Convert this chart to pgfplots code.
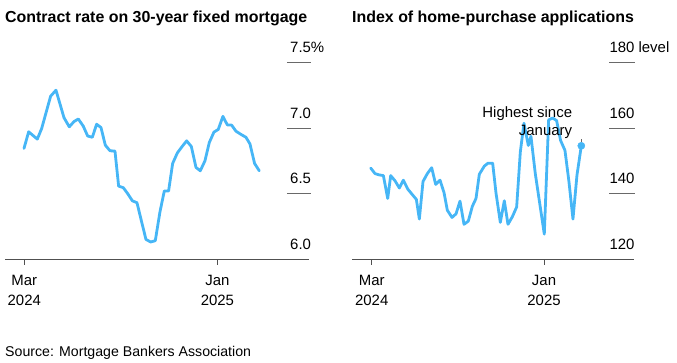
\documentclass[border=0pt]{standalone}
\usepackage{fontspec}
\setmainfont{Liberation Sans}
\usepackage{pgfplots}
\usepackage{pgfplotstable}
\pgfplotsset{compat=1.18}
\definecolor{lineblue}{RGB}{70,182,246}
\definecolor{gridgray}{RGB}{105,105,105}
\definecolor{basegray}{RGB}{80,80,80}

\pgfplotstableread{
day rate
-0.5 6.845
6.9 6.972
20.6 6.916
27.5 6.997
41.7 7.244
50.2 7.29
62.9 7.08
71.3 7.01
78.7 7.05
85.6 7.07
93.5 7.015
100.4 6.94
107.8 6.93
114.6 7.03
121.5 7.005
128.4 6.87
135.8 6.827
143.7 6.825
149.5 6.557
156.9 6.545
163.8 6.50
171.2 6.445
178.6 6.43
185.9 6.285
192.8 6.15
200.2 6.13
207.6 6.14
215.0 6.36
221.9 6.52
228.7 6.52
235.1 6.73
242.5 6.81
249.9 6.858
257.3 6.903
264.7 6.86
272.1 6.70
278.9 6.674
286.3 6.75
293.2 6.89
300.6 6.97
307.4 6.99
314.8 7.09
321.7 7.025
328.6 7.023
335.4 6.977
342.8 6.954
351.3 6.93
357.6 6.88
365.0 6.73
372.4 6.674
}\ratetable

\pgfplotstableread{
day idx
-1.8 147.8
5.9 146.1
13.6 145.7
20.7 145.5
28.4 138.5
33.7 145.5
41.4 143.9
49.1 141.7
56.2 144.1
63.9 141.4
71.6 139.8
79.3 138.2
84.6 132.2
91.1 143.7
98.8 146.1
106.5 147.9
113.6 142.8
121.3 144.1
128.4 140.3
134.3 134.9
142.6 132.7
149.7 133.8
156.8 137.7
163.9 130.6
171.6 131.6
178.7 136.1
185.2 138.5
191.1 145.9
200.0 148.4
206.5 149.3
214.8 149.3
220.7 140.2
228.4 131.2
235.5 137.8
242.0 130.6
249.7 132.9
257.4 135.9
263.9 152.7
270.4 161.5
278.1 154.7
282.8 157.5
290.5 146.1
306.5 127.6
314.2 162.5
321.3 163.1
328.4 162.3
335.5 156.2
343.2 153.2
350.3 143.6
357.4 132.2
364.5 145.6
372.2 154.6
}\idxtable

\begin{document}
\begin{tikzpicture}[x=1bp,y=1bp]
\useasboundingbox (0,0) rectangle (677,-362);
\tikzset{lbl/.style={inner sep=0pt, font=\fontsize{15}{18}\selectfont}}

\node[anchor=base west, inner sep=0pt, font=\fontsize{16}{19}\selectfont\bfseries] at (5,-22) {Contract rate on 30-year fixed mortgage};
\node[anchor=base west, inner sep=0pt, font=\fontsize{16}{19}\selectfont\bfseries] at (352,-22) {Index of home-purchase applications};
\node[anchor=base west, inner sep=0pt, font=\fontsize{14.2}{17}\selectfont] at (5,-356) {Source: Mortgage Bankers Association};

% Left panel
\begin{axis}[at={(5bp,-259bp)}, anchor=south west, scale only axis,
  width=306bp, height=196.3bp, xmin=-30.6, xmax=454.4, ymin=6, ymax=7.5,
  hide axis, clip=false]
\draw[basegray, line width=1bp] (axis cs:-30.6,6) -- (axis cs:451.2,6);
\draw[basegray, line width=1bp] (axis cs:0,6) -- ([yshift=-6bp]axis cs:0,6);
\draw[basegray, line width=1bp] (axis cs:306,6) -- ([yshift=-6bp]axis cs:306,6);
\draw[gridgray, line width=1bp] (axis cs:416.3,6.5) -- (axis cs:454.4,6.5);
\draw[gridgray, line width=1bp] (axis cs:416.3,7.0) -- (axis cs:454.4,7.0);
\draw[gridgray, line width=1bp] (axis cs:416.3,7.5) -- (axis cs:454.4,7.5);
\node[lbl, anchor=base west, yshift=10bp] at (axis cs:421.1,6.0) {6.0};
\node[lbl, anchor=base west, yshift=10bp] at (axis cs:421.1,6.5) {6.5};
\node[lbl, anchor=base west, yshift=10bp] at (axis cs:421.1,7.0) {7.0};
\node[lbl, anchor=base west, yshift=10bp] at (axis cs:421.1,7.5) {7.5\%};
\node[lbl, anchor=base, yshift=-26.7bp] at (axis cs:0,6) {Mar};
\node[lbl, anchor=base, yshift=-46bp] at (axis cs:0,6) {2024};
\node[lbl, anchor=base, yshift=-26.7bp] at (axis cs:306,6) {Jan};
\node[lbl, anchor=base, yshift=-46bp] at (axis cs:306,6) {2025};
\addplot[lineblue, line width=2.8bp, line join=round, line cap=round] table[x=day, y=rate] {\ratetable};
\end{axis}

% Right panel
\begin{axis}[at={(352bp,-259bp)}, anchor=south west, scale only axis,
  width=283bp, height=196.3bp, xmin=-35.0, xmax=467.6, ymin=120, ymax=180,
  hide axis, clip=false]
\draw[basegray, line width=1bp] (axis cs:-35.0,120) -- (axis cs:465.9,120);
\draw[basegray, line width=1bp] (axis cs:0,120) -- ([yshift=-6bp]axis cs:0,120);
\draw[basegray, line width=1bp] (axis cs:306,120) -- ([yshift=-6bp]axis cs:306,120);
\draw[gridgray, line width=1bp] (axis cs:421.5,140) -- (axis cs:467.6,140);
\draw[gridgray, line width=1bp] (axis cs:421.5,160) -- (axis cs:467.6,160);
\draw[gridgray, line width=1bp] (axis cs:421.5,180) -- (axis cs:467.6,180);
\node[lbl, anchor=base west, yshift=10bp] at (axis cs:422,120) {120};
\node[lbl, anchor=base west, yshift=10bp] at (axis cs:422,140) {140};
\node[lbl, anchor=base west, yshift=10bp] at (axis cs:422,160) {160};
\node[lbl, anchor=base west, yshift=10bp] at (axis cs:422,180) {180 level};
\node[lbl, anchor=base, yshift=-26.7bp] at (axis cs:0,120) {Mar};
\node[lbl, anchor=base, yshift=-46bp] at (axis cs:0,120) {2024};
\node[lbl, anchor=base, yshift=-26.7bp] at (axis cs:306,120) {Jan};
\node[lbl, anchor=base, yshift=-46bp] at (axis cs:306,120) {2025};
\addplot[lineblue, line width=2.8bp, line join=round, line cap=round] table[x=day, y=idx] {\idxtable};
\draw[gridgray, line width=0.9bp] ([yshift=3.6bp]axis cs:372.2,154.6) -- ([yshift=7bp]axis cs:372.2,154.6);
\addplot[only marks, mark=*, mark size=3.6bp, color=lineblue] coordinates {(372.2,154.6)};
\end{axis}

\node[lbl, anchor=base east] at (572.3,-117.3) {Highest since};
\node[lbl, anchor=base east] at (572.3,-135) {January};
\end{tikzpicture}
\end{document}
